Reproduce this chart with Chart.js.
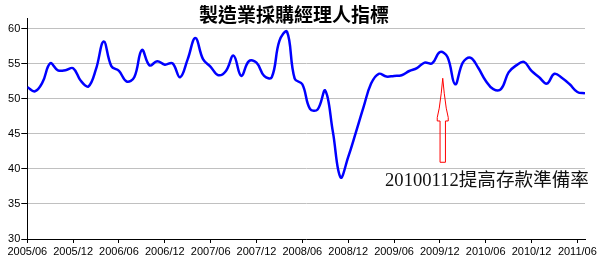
<!DOCTYPE html>
<html>
<head>
<meta charset="utf-8">
<script src="https://cdn.jsdelivr.net/npm/chart.js@4/dist/chart.umd.min.js"></script>
<style>
  html, body { margin: 0; padding: 0; background: #ffffff; }
  #wrap { width: 607px; height: 268px; }
</style>
</head>
<body>
<div id="wrap"><canvas id="c" width="607" height="268"></canvas></div>
<script>
// ---- data ----
const TITLE = '製造業採購經理人指標';
const TICK_LABELS = ['2005/06','2005/12','2006/06','2006/12','2007/06','2007/12','2008/06',
                     '2008/12','2009/06','2009/12','2010/06','2010/12','2011/06'];
const Y_TICKS = [30, 35, 40, 45, 50, 55, 60];
// monthly PMI, 2005/06 .. 2011/07
const PMI = [
  51.7, 51.1, 52.4, 55.1, 54.1, 54.1, 54.4, 52.6, 51.8, 54.3,
  58.2, 54.7, 54.0, 52.5, 53.1, 57.0, 54.8, 55.4, 54.9, 55.1,
  53.1, 55.7, 58.7, 55.7, 54.6, 53.4, 54.0, 56.2, 53.3, 55.4,
  55.2, 53.3, 53.1, 58.3, 59.6, 52.9, 52.1, 48.6, 48.5, 51.2,
  45.3, 38.8, 41.7, 45.2, 48.8, 52.2, 53.6, 53.2, 53.3, 53.4,
  54.0, 54.4, 55.2, 55.1, 56.7, 56.0, 52.1, 55.2, 55.9, 54.5,
  52.6, 51.4, 51.4, 53.8, 54.8, 55.3, 54.0, 53.1, 52.2, 53.6,
  53.0, 52.1, 51.0, 50.8
];
const NOTE_TEXT = '20100112提高存款準備率';
const NOTE_AT = [46.83, 38.2];          // [month index, value] of text left-middle
const ARROW_X = 54.38;                  // month index of arrow
const ARROW_TIP = 52.96, ARROW_HEAD_BASE = 46.86, ARROW_BOTTOM = 40.96;

const notePlugin = {
  id: 'notePlugin',
  afterDraw(chart) {
    const ctx = chart.ctx, xs = chart.scales.x, ys = chart.scales.y;
    // title
    ctx.save();
    ctx.fillStyle = '#000';
    ctx.font = 'bold 19px "Noto Sans CJK TC"';
    ctx.textAlign = 'center';
    ctx.textBaseline = 'middle';
    ctx.fillText(TITLE, 294, 14.5);
    // arrow
    const ax = xs.getPixelForValue(ARROW_X);
    const yt = ys.getPixelForValue(ARROW_TIP);
    const yh = ys.getPixelForValue(ARROW_HEAD_BASE);
    const yb = ys.getPixelForValue(ARROW_BOTTOM);
    const hw = 5.5, sw = 2.7, hl = yh - yt;
    ctx.strokeStyle = '#ff0000';
    ctx.lineWidth = 1;
    ctx.beginPath();
    ctx.moveTo(ax, yt);
    ctx.lineTo(ax + 1.5, yt + hl * 0.35);
    ctx.lineTo(ax + 3.5, yt + hl * 0.7);
    ctx.lineTo(ax + hw, yt + hl * 0.92);
    ctx.lineTo(ax + hw, yh);
    ctx.lineTo(ax + sw, yh);
    ctx.lineTo(ax + sw, yb);
    ctx.lineTo(ax - sw, yb);
    ctx.lineTo(ax - sw, yh);
    ctx.lineTo(ax - hw, yh);
    ctx.lineTo(ax - hw, yt + hl * 0.92);
    ctx.lineTo(ax - 3.5, yt + hl * 0.7);
    ctx.lineTo(ax - 1.5, yt + hl * 0.35);
    ctx.closePath();
    ctx.stroke();
    // note text
    ctx.fillStyle = '#111';
    ctx.font = '18.6px "Liberation Serif", "Noto Sans CJK TC"';
    ctx.textAlign = 'left';
    ctx.textBaseline = 'middle';
    ctx.fillText(NOTE_TEXT, xs.getPixelForValue(NOTE_AT[0]), ys.getPixelForValue(NOTE_AT[1]));
    ctx.restore();
  }
};

new Chart(document.getElementById('c'), {
  type: 'line',
  data: {
    datasets: [{
      data: PMI.map((v, i) => ({ x: i, y: v })),
      borderColor: '#0000ff',
      borderWidth: 2.5,
      pointRadius: 0,
      tension: 0.4,
      fill: false
    }]
  },
  options: {
    responsive: false,
    animation: false,
    devicePixelRatio: 1,
    layout: { padding: { top: 18, right: 22, left: 0, bottom: 0 } },
    plugins: { legend: { display: false }, title: { display: false }, tooltip: { enabled: false } },
    scales: {
      x: {
        type: 'linear',
        min: 0,
        max: PMI.length - 1,
        afterBuildTicks(s) { s.ticks = TICK_LABELS.map((l, i) => ({ value: i * 6 })); },
        afterFit(s) { s.height = 29; },
        ticks: {
          autoSkip: false,
          maxRotation: 0,
          padding: 2,
          color: '#000',
          font: { family: '"Liberation Sans"', size: 11 },
          callback: v => TICK_LABELS[Math.round(v / 6)]
        },
        grid: { drawOnChartArea: false, drawTicks: true, tickLength: 4, tickColor: '#000' },
        border: { color: '#000', width: 1 }
      },
      y: {
        min: 30,
        max: 61.57,
        afterBuildTicks(s) { s.ticks = Y_TICKS.map(v => ({ value: v })); },
        afterFit(s) { s.width = 27.3; },
        ticks: {
          padding: 1,
          color: '#000',
          font: { family: '"Liberation Sans"', size: 11 }
        },
        grid: { color: '#c0c0c0', lineWidth: 1, tickLength: 6, tickColor: '#000' },
        border: { color: '#000', width: 1 }
      }
    }
  },
  plugins: [notePlugin]
});
</script>
</body>
</html>
